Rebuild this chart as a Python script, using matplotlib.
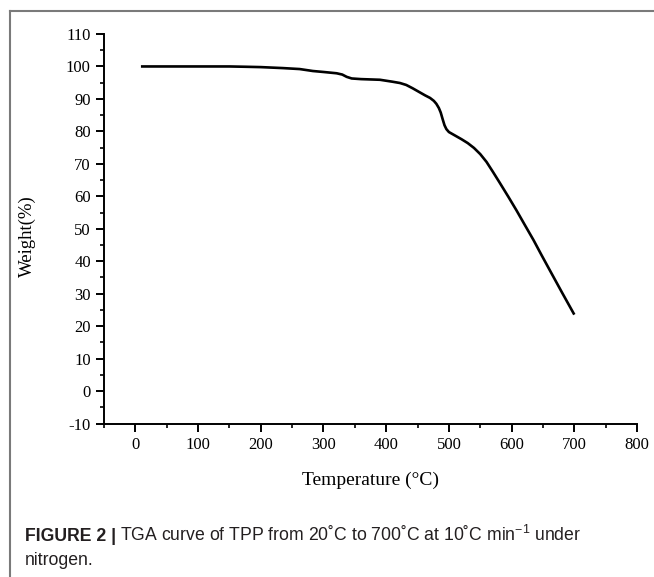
import matplotlib
matplotlib.use("Agg")
import matplotlib.pyplot as plt
from matplotlib.ticker import MultipleLocator
from matplotlib.lines import Line2D

temperature = [11, 50, 100, 150, 177, 200, 235, 262, 283, 300, 321, 330, 337, 345, 360, 390,
               400, 410, 422, 432, 442, 452, 462, 470, 476, 480, 484, 487, 490, 493,
               496, 500, 510, 520, 530, 540, 550, 560, 570, 581, 595, 608, 621, 635,
               648, 661, 680, 699]
weight = [100.0, 100.0, 100.0, 100.0, 99.9, 99.8, 99.5, 99.2, 98.6, 98.3, 97.9, 97.5,
          96.8, 96.3, 96.1, 95.9, 95.6, 95.3, 94.9, 94.3, 93.3, 92.2, 91.1, 90.3, 89.4,
          88.5, 87.2, 85.8, 83.8, 81.9, 80.7, 79.8, 78.7, 77.6, 76.4, 74.9, 73.0,
          70.6, 67.6, 64.2, 59.8, 55.6, 51.2, 46.5, 41.8, 37.2, 30.5, 23.9]

x_ticks = [0, 100, 200, 300, 400, 500, 600, 700, 800]
y_ticks = [-10, 0, 10, 20, 30, 40, 50, 60, 70, 80, 90, 100, 110]

plt.rcParams["axes.unicode_minus"] = False
plt.rcParams["mathtext.fontset"] = "custom"
plt.rcParams["mathtext.rm"] = "Liberation Sans"
plt.rcParams["mathtext.it"] = "Liberation Sans"

W, H = 654, 577
fig = plt.figure(figsize=(W / 100, H / 100), dpi=100)
fig.patch.set_facecolor("white")

ax = fig.add_axes([104 / W, 1 - 423.5 / H, (637 - 104) / W, (423.5 - 34) / H])
ax.plot(temperature, weight, color="black", lw=1.9, solid_joinstyle="round")
ax.set_xlim(-50, 800)
ax.set_ylim(-10, 110)
ax.set_xticks(x_ticks)
ax.set_yticks(y_ticks)
ax.xaxis.set_minor_locator(MultipleLocator(50))
ax.yaxis.set_minor_locator(MultipleLocator(5))
for s in ["top", "right"]:
    ax.spines[s].set_visible(False)
for s in ["left", "bottom"]:
    ax.spines[s].set_linewidth(1.4)
ax.tick_params(which="major", direction="out", length=5.5, width=1.4, pad=4,
               labelsize=12, colors="black")
ax.tick_params(which="minor", direction="out", length=3, width=1.2)
for lab in ax.get_xticklabels() + ax.get_yticklabels():
    lab.set_fontfamily("Liberation Serif")
ax.set_xlabel("Temperature (°C)", fontfamily="Liberation Serif", fontsize=14, labelpad=14)
ax.set_ylabel("Weight(%)", fontfamily="Liberation Serif", fontsize=13.5)
ax.yaxis.set_label_coords(-0.128, 0.48)

# frame lines
fig.add_artist(Line2D([9.5 / W, 1], [1 - 10.5 / H, 1 - 10.5 / H], transform=fig.transFigure,
                      color="#7a7a7a", lw=1.5))
fig.add_artist(Line2D([9.5 / W, 9.5 / W], [1 - 10.5 / H, 0], transform=fig.transFigure,
                      color="#7a7a7a", lw=1.5))

cap_size = 12.7
t1 = fig.text(25 / W, 1 - 541 / H, "FIGURE 2 |", fontfamily="Liberation Sans",
              fontweight="bold", fontsize=cap_size, va="baseline", color="#231f20")
fig.canvas.draw()
r = fig.canvas.get_renderer()
bb = t1.get_window_extent(r)
fig.text(bb.x1 / W + 4 / W, 1 - 541 / H,
         "TGA curve of TPP from 20˚C to 700˚C at 10˚C min$^{−1}$ under",
         fontfamily="Liberation Sans", fontsize=cap_size, va="baseline", color="#231f20")
fig.text(25 / W, 1 - 565 / H, "nitrogen.", fontfamily="Liberation Sans",
         fontsize=cap_size, va="baseline", color="#231f20")

fig.savefig("out.png", dpi=100, facecolor="white")
